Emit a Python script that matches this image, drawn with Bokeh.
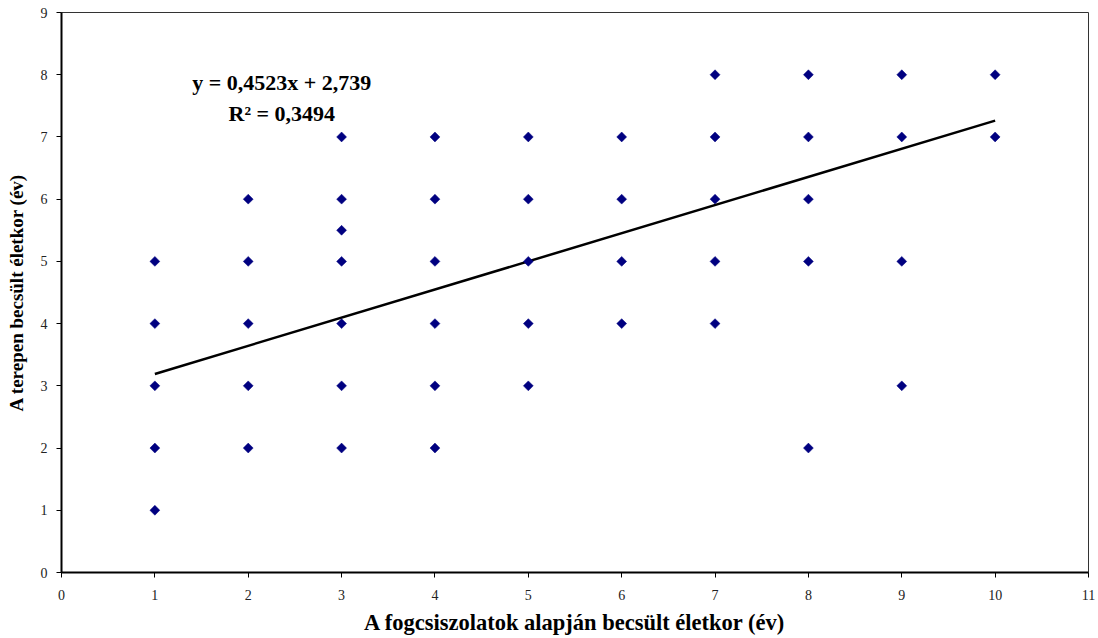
import math
from bokeh.plotting import figure
from bokeh.models import Label, Range1d, FixedTicker
from bokeh.embed import file_html
from bokeh.resources import INLINE

# Data
x_fog = [1, 1, 1, 1, 1,
         2, 2, 2, 2, 2,
         3, 3, 3, 3, 3, 3, 3,
         4, 4, 4, 4, 4, 4,
         5, 5, 5, 5, 5,
         6, 6, 6, 6,
         7, 7, 7, 7, 7,
         8, 8, 8, 8, 8,
         9, 9, 9, 9,
         10, 10]
y_terep = [1, 2, 3, 4, 5,
           2, 3, 4, 5, 6,
           2, 3, 4, 5, 5.5, 6, 7,
           2, 3, 4, 5, 6, 7,
           3, 4, 5, 6, 7,
           4, 5, 6, 7,
           4, 5, 6, 7, 8,
           2, 5, 6, 7, 8,
           3, 5, 7, 8,
           7, 8]
slope = 0.4523
intercept = 2.739
r2 = 0.3494
trend_x = [1, 10]
x_ticks = list(range(0, 12))
y_ticks = list(range(0, 10))

FONT = "Liberation Serif"

p = figure(width=1098, height=638, output_backend="svg", toolbar_location=None,
           x_range=Range1d(0, 11), y_range=Range1d(0, 9),
           min_border_left=61, min_border_right=10, min_border_top=12, min_border_bottom=66)
p.background_fill_color = "white"
p.border_fill_color = "white"
p.outline_line_color = "#333333"
p.outline_line_width = 1
p.xgrid.visible = False
p.ygrid.visible = False

trend_y = [slope * v + intercept for v in trend_x]
p.line(trend_x, trend_y, line_color="black", line_width=2.5)
p.scatter(x_fog, y_terep, marker="square", size=7, angle=math.pi / 4,
          fill_color="#000080", line_color="#000080", line_width=0.5)

for ax in (p.xaxis[0], p.yaxis[0]):
    ax.axis_line_width = 2
    ax.axis_line_color = "black"
    ax.major_tick_line_color = "black"
    ax.major_tick_line_width = 1
    ax.major_tick_out = 5
    ax.major_tick_in = 0
    ax.minor_tick_line_color = None
    ax.major_label_text_font = FONT
    ax.major_label_text_font_size = "14px"
    ax.major_label_text_color = "#222222"
    ax.axis_label_text_font = FONT
    ax.axis_label_text_font_style = "bold"
    ax.axis_label_text_color = "black"

p.xaxis.axis_label_text_font_size = "22.5px"
p.yaxis.axis_label_text_font_size = "19px"
p.xaxis.ticker = FixedTicker(ticks=x_ticks)
p.yaxis.ticker = FixedTicker(ticks=y_ticks)
p.xaxis.axis_label = "A fogcsiszolatok alapján becsült életkor (év)"
p.yaxis.axis_label = "A terepen becsült életkor (év)"
p.xaxis.major_label_standoff = 12
p.yaxis.major_label_standoff = 9
p.xaxis.axis_label_standoff = 7
p.yaxis.axis_label_standoff = 11

p.add_layout(Label(x=2.36, y=7.87, text=f"y = {slope:.4f}x + {intercept:.3f}".replace(".", ","),
                   text_font=FONT, text_font_size="22px", text_font_style="bold",
                   text_color="black", text_align="center", text_baseline="middle"))
p.add_layout(Label(x=2.36, y=7.38, text=f"R² = {r2:.4f}".replace(".", ","),
                   text_font=FONT, text_font_size="22px", text_font_style="bold",
                   text_color="black", text_align="center", text_baseline="middle"))

open("out.html", "w").write(file_html(p, INLINE))
